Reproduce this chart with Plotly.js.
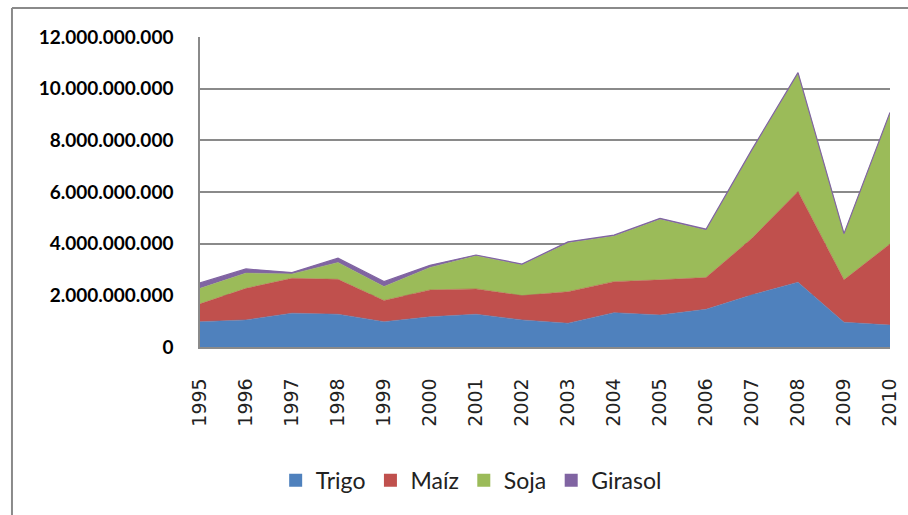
<!DOCTYPE html>
<html>
<head>
<meta charset="utf-8">
<script src="https://cdn.plot.ly/plotly-3.0.1.min.js"></script>
<style>
  html, body { margin: 0; padding: 0; background: #fff; }
  #chart { width: 908px; height: 515px; }
</style>
</head>
<body>
<div id="chart"></div>
<script>
var years = ['1995','1996','1997','1998','1999','2000','2001','2002','2003','2004','2005','2006','2007','2008','2009','2010'];
var trigo   = [0.98e9, 1.05e9, 1.31e9, 1.27e9, 0.98e9, 1.17e9, 1.27e9, 1.05e9, 0.92e9, 1.33e9, 1.24e9, 1.46e9, 2.02e9, 2.51e9, 0.96e9, 0.85e9];
var maiz    = [0.69e9, 1.22e9, 1.35e9, 1.35e9, 0.82e9, 1.04e9, 0.98e9, 0.94e9, 1.22e9, 1.20e9, 1.36e9, 1.23e9, 2.19e9, 3.51e9, 1.64e9, 3.14e9];
var soja    = [0.60e9, 0.59e9, 0.17e9, 0.65e9, 0.54e9, 0.87e9, 1.28e9, 1.19e9, 1.90e9, 1.77e9, 2.35e9, 1.84e9, 3.42e9, 4.58e9, 1.77e9, 5.07e9];
var girasol = [0.21e9, 0.16e9, 0.05e9, 0.17e9, 0.19e9, 0.08e9, 0.03e9, 0.03e9, 0.03e9, 0.03e9, 0.03e9, 0.03e9, 0.02e9, 0.02e9, 0.02e9, 0.02e9];
var names   = ['Trigo', 'Maíz', 'Soja', 'Girasol'];
var colors  = ['#4F81BD', '#C0504D', '#9BBB59', '#8064A2'];
var series  = [trigo, maiz, soja, girasol];

var traces = series.map(function (vals, i) {
  return {
    type: 'scatter',
    mode: 'lines',
    x: years,
    y: vals,
    name: names[i],
    stackgroup: 'one',
    fillcolor: colors[i],
    line: { color: colors[i], width: i === 3 ? 1.2 : 0.5 },
    showlegend: false,
    hoverinfo: 'x+y+name'
  };
});

// legend-only entries with square swatches
names.forEach(function (n, i) {
  traces.push({
    type: 'scatter',
    mode: 'markers',
    x: [null],
    y: [null],
    name: n,
    marker: { symbol: 'square', size: 13, color: colors[i] },
    showlegend: true,
    hoverinfo: 'skip'
  });
});

var gray = '#8a8a8a';
var layout = {
  width: 908,
  height: 515,
  margin: { l: 200, r: 18, t: 37, b: 168 },
  paper_bgcolor: '#ffffff',
  plot_bgcolor: '#ffffff',
  separators: ',.',
  showlegend: true,
  xaxis: {
    type: 'category',
    range: [0, 15],
    showgrid: false,
    showline: true,
    linecolor: gray,
    linewidth: 1.5,
    ticks: '',
    tickangle: -90,
    ticklabelstandoff: 22,
    tickfont: { family: 'DejaVu Sans', size: 19, color: '#222', weight: 'normal' },
    zeroline: false,
    fixedrange: true
  },
  yaxis: {
    range: [0, 12e9],
    dtick: 2e9,
    tick0: 0,
    tickformat: ',d',
    showgrid: true,
    gridcolor: gray,
    gridwidth: 1.5,
    showline: true,
    linecolor: gray,
    linewidth: 1.5,
    ticks: '',
    ticklabelstandoff: 21,
    tickfont: { family: 'Lato', size: 19, color: '#000', weight: 'bold' },
    zeroline: false,
    fixedrange: true
  },
  legend: {
    orientation: 'h',
    traceorder: 'normal',
    x: 0.393,
    xanchor: 'center',
    y: -0.43,
    yanchor: 'middle',
    font: { family: 'Lato', size: 23, color: '#222' },
    itemwidth: 30
  },
  shapes: [
    { type: 'line', xref: 'paper', yref: 'paper', x0: -0.2725, x1: -0.2725, y0: 1.0935, y1: -0.6, line: { color: gray, width: 2 } },
    { type: 'line', xref: 'paper', yref: 'paper', x0: -0.2725, x1: 1.1, y0: 1.0935, y1: 1.0935, line: { color: gray, width: 2 } }
  ]
};

Plotly.newPlot('chart', traces, layout, { displayModeBar: false, responsive: false });
</script>
</body>
</html>
